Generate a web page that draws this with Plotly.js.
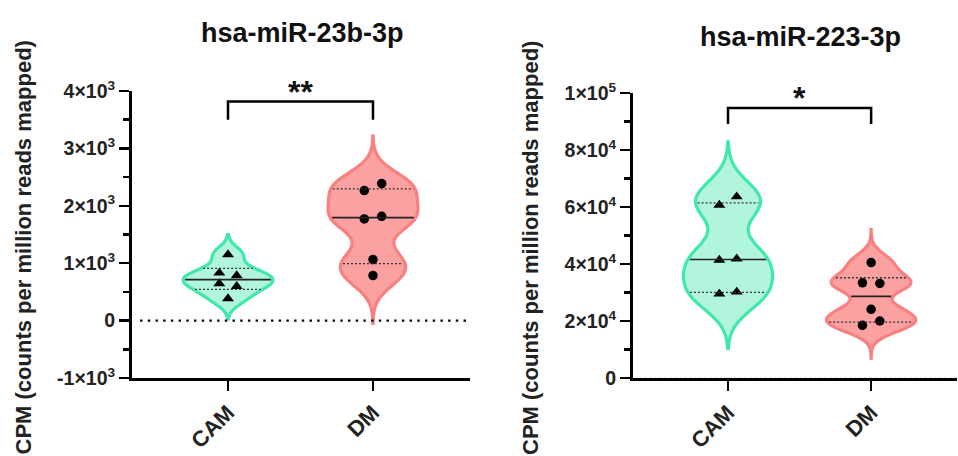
<!DOCTYPE html>
<html>
<head>
<meta charset="utf-8">
<script src="https://cdn.plot.ly/plotly-3.0.1.min.js"></script>
<style>html,body{margin:0;padding:0;background:#fff;}#chart{width:958px;height:456px;}</style>
</head>
<body>
<div id="chart"></div>
<script>
// ---------- data ----------
const categories = ['CAM', 'DM'];
const panelTitles = ['hsa-miR-23b-3p', 'hsa-miR-223-3p'];
const yAxisTitle = 'CPM (counts per million reads mapped)';
const significance = ['**', '*'];

// hsa-miR-23b-3p
const cam23b = [1150, 831, 784, 645, 598, 383];
const dm23b  = [2265, 2387, 1771, 1817, 1063, 784];
// hsa-miR-223-3p
const cam223 = [60700, 63600, 41400, 41800, 29500, 30200];
const dm223  = [40500, 33400, 33200, 24100, 18500, 20000];

// tick labels
const tickVals23b = [-1000, 0, 1000, 2000, 3000, 4000];
const tickText23b = ['-1×10<sup>3</sup>', '0', '1×10<sup>3</sup>', '2×10<sup>3</sup>', '3×10<sup>3</sup>', '4×10<sup>3</sup>'];
const tickVals223 = [0, 20000, 40000, 60000, 80000, 100000];
const tickText223 = ['0', '2×10<sup>4</sup>', '4×10<sup>4</sup>', '6×10<sup>4</sup>', '8×10<sup>4</sup>', '1×10<sup>5</sup>'];

// ---------- styles ----------
const FONT = 'Arial, "Liberation Sans", sans-serif';
const camLine = 'rgb(64,232,170)', camFill = 'rgb(178,245,221)';
const dmLine = 'rgb(249,128,128)', dmFill = 'rgb(251,161,161)';
const VW = 0.62; // violin width (category units)

const panels = [
  { xa: 'x', ya: 'y', xr: [-0.662, 1.669], yr: [-1000, 4000], hpx: 287, wpx: 338,
    groups: [
      { vals: cam23b, bw: 135, span: [30, 1500], line: camLine, fill: camFill, sym: 'triangle-up' },
      { vals: dm23b, bw: 260, span: [-50, 3220], line: dmLine, fill: dmFill, sym: 'circle' }
    ] },
  { xa: 'x2', ya: 'y2', xr: [-0.664, 1.6], yr: [0, 100000], hpx: 285, wpx: 324,
    groups: [
      { vals: cam223, bw: 6600, span: [10400, 82900], line: camLine, fill: camFill, sym: 'triangle-up' },
      { vals: dm223, bw: 3300, span: [6900, 52200], line: dmLine, fill: dmFill, sym: 'circle' }
    ] }
];

function kde(vals, bw, y) {
  let s = 0;
  for (const v of vals) { const u = (y - v) / bw; s += Math.exp(-0.5 * u * u); }
  return s;
}
function maxKde(vals, bw, span) {
  const dist = span[1] - span[0];
  const n = Math.ceil(dist / (bw / 3));
  const step = dist / n;
  let m = 0;
  for (let t = span[0]; t < span[1] + step / 2; t += step) m = Math.max(m, kde(vals, bw, t));
  return m;
}
function quantile(vals, p) { // (n+1) method
  const s = [...vals].sort((a, b) => a - b);
  const pos = (s.length + 1) * p;
  const lo = Math.floor(pos), fr = pos - lo;
  if (lo < 1) return s[0];
  if (lo >= s.length) return s[s.length - 1];
  return s[lo - 1] + fr * (s[lo] - s[lo - 1]);
}
// simple row-based scatter layout: points close in y share a row, spread symmetrically
function offsets(vals, pxPerUnit, pxPerX) {
  const idx = vals.map((v, i) => i).sort((a, b) => vals[b] - vals[a]);
  const res = new Array(vals.length).fill(0);
  const thr = 9, spacing = 17.4;
  let i = 0;
  while (i < idx.length) {
    const grp = [idx[i]];
    let j = i + 1;
    while (j < idx.length && (vals[idx[i]] - vals[idx[j]]) * pxPerUnit < thr) { grp.push(idx[j]); j++; }
    grp.sort((a, b) => a - b);
    grp.forEach((g, k) => { res[g] = (k - (grp.length - 1) / 2) * spacing / pxPerX; });
    i = j;
  }
  return res;
}

const traces = [];
const shapes = [];
panels.forEach(p => {
  const pxPerUnit = p.hpx / (p.yr[1] - p.yr[0]);
  const pxPerX = p.wpx / (p.xr[1] - p.xr[0]);
  p.groups.forEach((g, gi) => {
    traces.push({
      type: 'violin', x0: gi, y: g.vals, xaxis: p.xa, yaxis: p.ya,
      bandwidth: g.bw, spanmode: 'manual', span: g.span,
      width: VW, scalemode: 'width', points: false,
      line: { color: g.line, width: 3.2 }, fillcolor: g.fill,
      box: { visible: false }, meanline: { visible: false }, hoverinfo: 'skip'
    });
    const mk = maxKde(g.vals, g.bw, g.span);
    const hw = y => VW / 2 * kde(g.vals, g.bw, y) / mk - 2 / pxPerX;
    [[0.25, 'dot'], [0.5, 'solid'], [0.75, 'dot']].forEach(([q, dash]) => {
      const y = quantile(g.vals, q);
      const h = hw(y);
      shapes.push({
        type: 'line', xref: p.xa, yref: p.ya, x0: gi - h, x1: gi + h, y0: y, y1: y,
        line: { color: dash === 'solid' ? '#222' : '#333', width: dash === 'solid' ? 1.6 : 1.3, dash: dash === 'solid' ? 'solid' : '2px,2px' }
      });
    });
    const off = offsets(g.vals, pxPerUnit, pxPerX);
    traces.push({
      type: 'scatter', mode: 'markers', xaxis: p.xa, yaxis: p.ya,
      x: g.vals.map((v, i) => gi + off[i]), y: g.vals,
      marker: { symbol: g.sym, color: '#000', size: g.sym === 'circle' ? 9.5 : 10.5 },
      hoverinfo: 'skip', cliponaxis: false
    });
  });
});

// zero reference lines
shapes.push({ type: 'line', xref: 'x domain', yref: 'y', x0: 0.024, x1: 1, y0: 0, y1: 0,
  line: { color: '#000', width: 2.4, dash: '2.4px,5.3px' } });
shapes.push({ type: 'line', xref: 'x2 domain', yref: 'y2', x0: 0.02, x1: 1, y0: 0, y1: 0,
  line: { color: '#bbb', width: 1, dash: '2px,3px' }, layer: 'above' });
// brackets
shapes.push({ type: 'path', xref: 'x', yref: 'y', path: 'M0,3500 L0,3815 L1,3815 L1,3500',
  line: { color: '#000', width: 2.5 } });
shapes.push({ type: 'path', xref: 'x2', yref: 'y2', path: 'M0,89100 L0,94700 L1,94700 L1,89100',
  line: { color: '#000', width: 2.5 } });

const axisY = (vals, txt, range, dom, minorD) => ({
  range: range, domain: dom, tickmode: 'array', tickvals: vals, ticktext: txt,
  showline: true, linewidth: 3, linecolor: '#000', ticks: 'outside', ticklen: 10, tickwidth: 2.5, tickcolor: '#000',
  showgrid: false, zeroline: false, fixedrange: true,
  tickfont: { family: FONT, size: 19.5, color: '#222', weight: 'bold' },
  minor: { tickmode: 'linear', tick0: 0, dtick: minorD, ticks: 'outside', ticklen: 6, tickwidth: 2.5, tickcolor: '#000' }
});
const axisX = (range, dom) => ({
  range: range, domain: dom, tickmode: 'array', tickvals: [0, 1], ticktext: categories, tickangle: -45,
  showline: true, linewidth: 3, linecolor: '#000', ticks: 'outside', ticklen: 10, tickwidth: 2.5, tickcolor: '#000',
  showgrid: false, zeroline: false, fixedrange: true,
  tickfont: { family: FONT, size: 22, color: '#222', weight: 'bold' }
});

const ann = [
  { text: panelTitles[0], xref: 'paper', yref: 'paper', x: 302 / 958, y: 1 - 33 / 456, showarrow: false,
    font: { family: FONT, size: 27, color: '#111', weight: 'bold' }, xanchor: 'center', yanchor: 'middle' },
  { text: panelTitles[1], xref: 'paper', yref: 'paper', x: 800 / 958, y: 1 - 37 / 456, showarrow: false,
    font: { family: FONT, size: 27, color: '#111', weight: 'bold' }, xanchor: 'center', yanchor: 'middle' },
  { text: yAxisTitle, xref: 'paper', yref: 'paper', x: 22.5 / 958, y: 1 - 248 / 456, textangle: -90, showarrow: false,
    font: { family: FONT, size: 22, color: '#222', weight: 'bold' }, xanchor: 'center', yanchor: 'middle' },
  { text: yAxisTitle, xref: 'paper', yref: 'paper', x: 530 / 958, y: 1 - 248 / 456, textangle: -90, showarrow: false,
    font: { family: FONT, size: 22, color: '#222', weight: 'bold' }, xanchor: 'center', yanchor: 'middle' },
  { text: significance[0], xref: 'x', yref: 'paper', x: 0.5, y: 1 - 92 / 456, showarrow: false,
    font: { family: FONT, size: 32, color: '#111', weight: 'bold' }, xanchor: 'center', yanchor: 'middle' },
  { text: significance[1], xref: 'x2', yref: 'paper', x: 0.5, y: 1 - 98 / 456, showarrow: false,
    font: { family: FONT, size: 32, color: '#111', weight: 'bold' }, xanchor: 'center', yanchor: 'middle' }
];

const layout = {
  width: 958, height: 456, margin: { l: 0, r: 0, t: 0, b: 0 },
  paper_bgcolor: '#fff', plot_bgcolor: '#fff', showlegend: false, violinmode: 'overlay',
  xaxis: Object.assign(axisX(panels[0].xr, [132 / 958, 470 / 958]), { anchor: 'y' }),
  yaxis: Object.assign(axisY(tickVals23b, tickText23b, panels[0].yr, [1 - 378 / 456, 1 - 91 / 456], 500), { anchor: 'x' }),
  xaxis2: Object.assign(axisX(panels[1].xr, [633 / 958, 957 / 958]), { anchor: 'y2' }),
  yaxis2: Object.assign(axisY(tickVals223, tickText223, panels[1].yr, [1 - 378 / 456, 1 - 93 / 456], 10000), { anchor: 'x2' }),
  shapes: shapes, annotations: ann
};

Plotly.newPlot('chart', traces, layout, { displayModeBar: false, staticPlot: true });
</script>
</body>
</html>
